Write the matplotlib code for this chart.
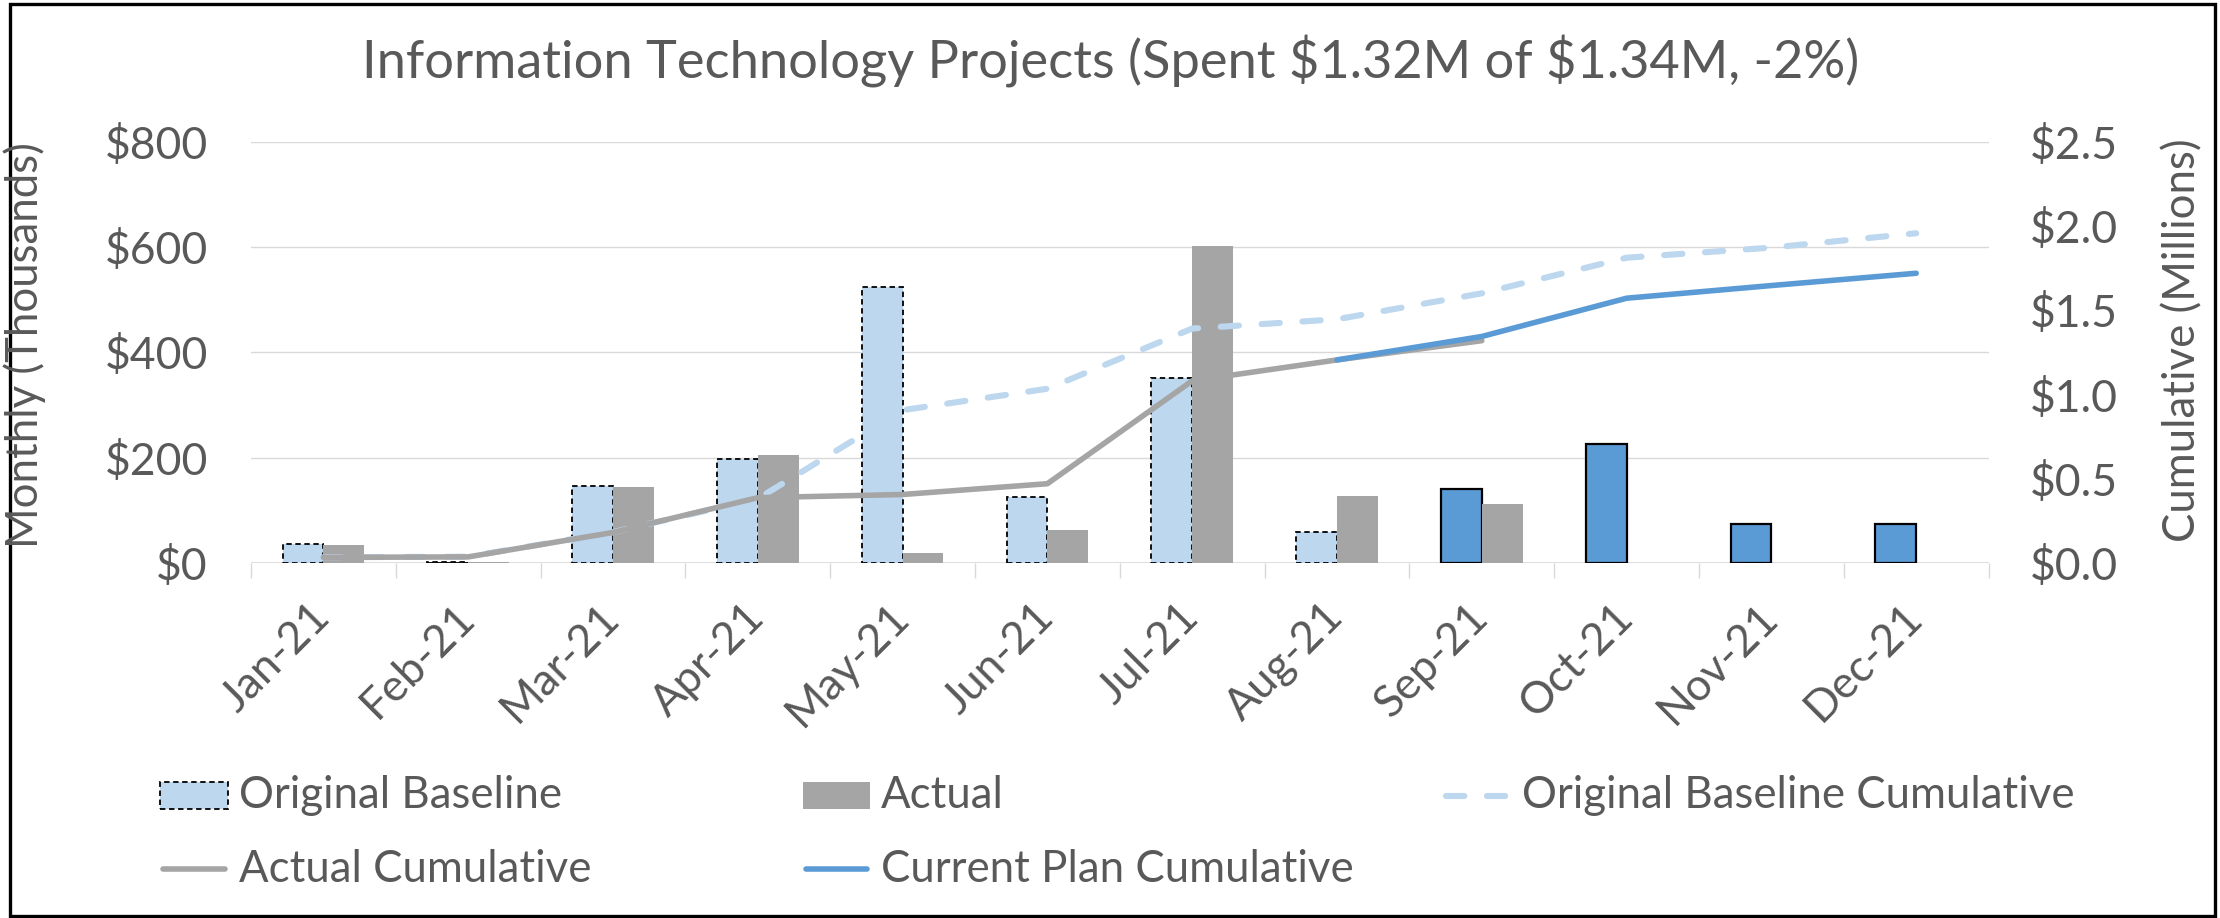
import numpy as np
import matplotlib
matplotlib.use("Agg")
import matplotlib.pyplot as plt
from matplotlib.patches import Rectangle
from matplotlib.lines import Line2D
from matplotlib.ticker import FixedLocator, FuncFormatter

nan = np.nan
months = ["Jan-21", "Feb-21", "Mar-21", "Apr-21", "May-21", "Jun-21",
          "Jul-21", "Aug-21", "Sep-21", "Oct-21", "Nov-21", "Dec-21"]
# monthly values, $ thousands
original_baseline = [36, 3, 146, 198, 525, 125, 351, 59, nan, nan, nan, nan]
current_plan = [nan, nan, nan, nan, nan, nan, nan, nan, 141, 226, 75, 75]
actual = [35, 3, 145, 206, 19, 63, 602, 127, 113, nan, nan, nan]
# cumulative values, $ millions
original_baseline_cum = [0.036, 0.039, 0.185, 0.383, 0.908, 1.035, 1.392, 1.447,
                         1.601, 1.812, 1.872, 1.957]
actual_cum = [0.035, 0.038, 0.183, 0.389, 0.408, 0.472, 1.082, 1.206, 1.320,
              nan, nan, nan]
current_plan_cum = [nan, nan, nan, nan, nan, nan, nan, 1.206, 1.345, 1.572,
                    1.647, 1.720]
left_ticks = [0, 200, 400, 600, 800]
right_ticks = [0.0, 0.5, 1.0, 1.5, 2.0, 2.5]
title = "Information Technology Projects (Spent $1.32M of $1.34M, -2%)"

FONT = "Lato"
TXT = "#595959"
GRID = "#D9D9D9"
C_BASE = "#BDD7EE"
C_ACT = "#A5A5A5"
C_PLAN = "#5B9BD5"

plt.rcParams["font.family"] = FONT
plt.rcParams["text.parse_math"] = False

W, H = 2220, 918
fig = plt.figure(figsize=(W / 100, H / 100), dpi=100)


def fx(x):
    return x / W


def fy(y):
    return 1 - y / H


ax_l, ax_r, ax_t, ax_b = 251, 1988.6, 141.7, 563.3
ax = fig.add_axes([fx(ax_l), fy(ax_b), fx(ax_r - ax_l), (ax_b - ax_t) / H])
ax2 = ax.twinx()

x = np.arange(len(months))
bw = 0.282
ax.bar(x - bw / 2, original_baseline, bw, color=C_BASE, edgecolor="black",
       linewidth=1.3, linestyle=(0, (3, 2)), zorder=2)
ax.bar(x - bw / 2, current_plan, bw, color=C_PLAN, edgecolor="black",
       linewidth=1.6, zorder=2)
ax.bar(x + bw / 2, actual, bw, color=C_ACT, edgecolor="none", zorder=2)

ax.set_xlim(-0.5, len(months) - 0.5)
ax.set_ylim(0, 800)
ax2.set_ylim(0, 2.5)

LW_D, LW_S = 4.4, 4.0
DASH = (3.0, 3.7)
ax2.plot(x, original_baseline_cum, color=C_BASE, lw=LW_D, dashes=DASH,
         dash_capstyle="round", zorder=3)
ax2.plot(x, actual_cum, color=C_ACT, lw=LW_S, solid_capstyle="round", zorder=4)
ax2.plot(x, current_plan_cum, color=C_PLAN, lw=LW_S, solid_capstyle="round", zorder=5)

ax.set_yticks(left_ticks)
ax.yaxis.set_major_formatter(FuncFormatter(lambda v, p: f"${v:,.0f}"))
ax.grid(axis="y", color=GRID, lw=1.0, zorder=0)
ax.set_axisbelow(True)
ax2.set_yticks(right_ticks)
ax2.yaxis.set_major_formatter(FuncFormatter(lambda v, p: f"${v:.1f}"))

for a in (ax, ax2):
    for s in ("top", "left", "right", "bottom"):
        a.spines[s].set_visible(False)
ax.axhline(0, color=GRID, lw=1.2, zorder=1)

TS = 32
ax.tick_params(axis="y", length=0, pad=31, labelsize=TS, labelcolor=TXT)
ax2.tick_params(axis="y", length=0, pad=30, labelsize=TS, labelcolor=TXT)

ax.set_xticks(x)
ax.set_xticklabels(months, rotation=45, ha="right", va="center",
                   rotation_mode="anchor", fontsize=TS, color=TXT)
ax.tick_params(axis="x", which="major", length=0, pad=34)
ax.xaxis.set_minor_locator(FixedLocator(np.arange(-0.5, len(months), 1.0)))
ax.tick_params(axis="x", which="minor", length=11, width=1.0, color=GRID)

fig.text(fx(1111), fy(62), title, ha="center", va="center", fontsize=37.7, color=TXT)
fig.text(fx(25), fy(345), "Monthly (Thousands)", rotation=90, ha="center",
         va="center", fontsize=31.5, color=TXT)
fig.text(fx(2183), fy(340), "Cumulative (Millions)", rotation=90, ha="center",
         va="center", fontsize=31.5, color=TXT)

# legend laid out in an Excel-like grid
tr = fig.transFigure
LS = 31.5
r1, r2 = 795.5, 869
fig.add_artist(Rectangle((fx(160), fy(809)), fx(68), 27 / H, transform=tr,
                         facecolor=C_BASE, edgecolor="black", lw=1.3,
                         linestyle=(0, (3, 2))))
fig.text(fx(239), fy(r1), "Original Baseline", ha="left", va="center",
         fontsize=LS, color=TXT)
fig.add_artist(Rectangle((fx(803), fy(809)), fx(67), 27 / H, transform=tr,
                         facecolor=C_ACT, edgecolor="none"))
fig.text(fx(881), fy(r1), "Actual", ha="left", va="center", fontsize=LS, color=TXT)
fig.add_artist(Line2D([fx(1446), fx(1506)], [fy(r1), fy(r1)], transform=tr,
                      color=C_BASE, lw=LW_D, dashes=DASH, dash_capstyle="round"))
fig.text(fx(1522), fy(r1), "Original Baseline Cumulative", ha="left", va="center",
         fontsize=LS, color=TXT)
fig.add_artist(Line2D([fx(163), fx(225)], [fy(r2), fy(r2)], transform=tr,
                      color=C_ACT, lw=LW_S, solid_capstyle="round"))
fig.text(fx(239), fy(r2), "Actual Cumulative", ha="left", va="center",
         fontsize=LS, color=TXT)
fig.add_artist(Line2D([fx(806), fx(867)], [fy(r2), fy(r2)], transform=tr,
                      color=C_PLAN, lw=LW_S, solid_capstyle="round"))
fig.text(fx(881), fy(r2), "Current Plan Cumulative", ha="left", va="center",
         fontsize=LS, color=TXT)

# outer border
fig.add_artist(Rectangle((fx(10), fy(916)), fx(2205), 912 / H, transform=tr,
                         fill=False, edgecolor="black", lw=2.4))

fig.savefig("out.png", dpi=100)
